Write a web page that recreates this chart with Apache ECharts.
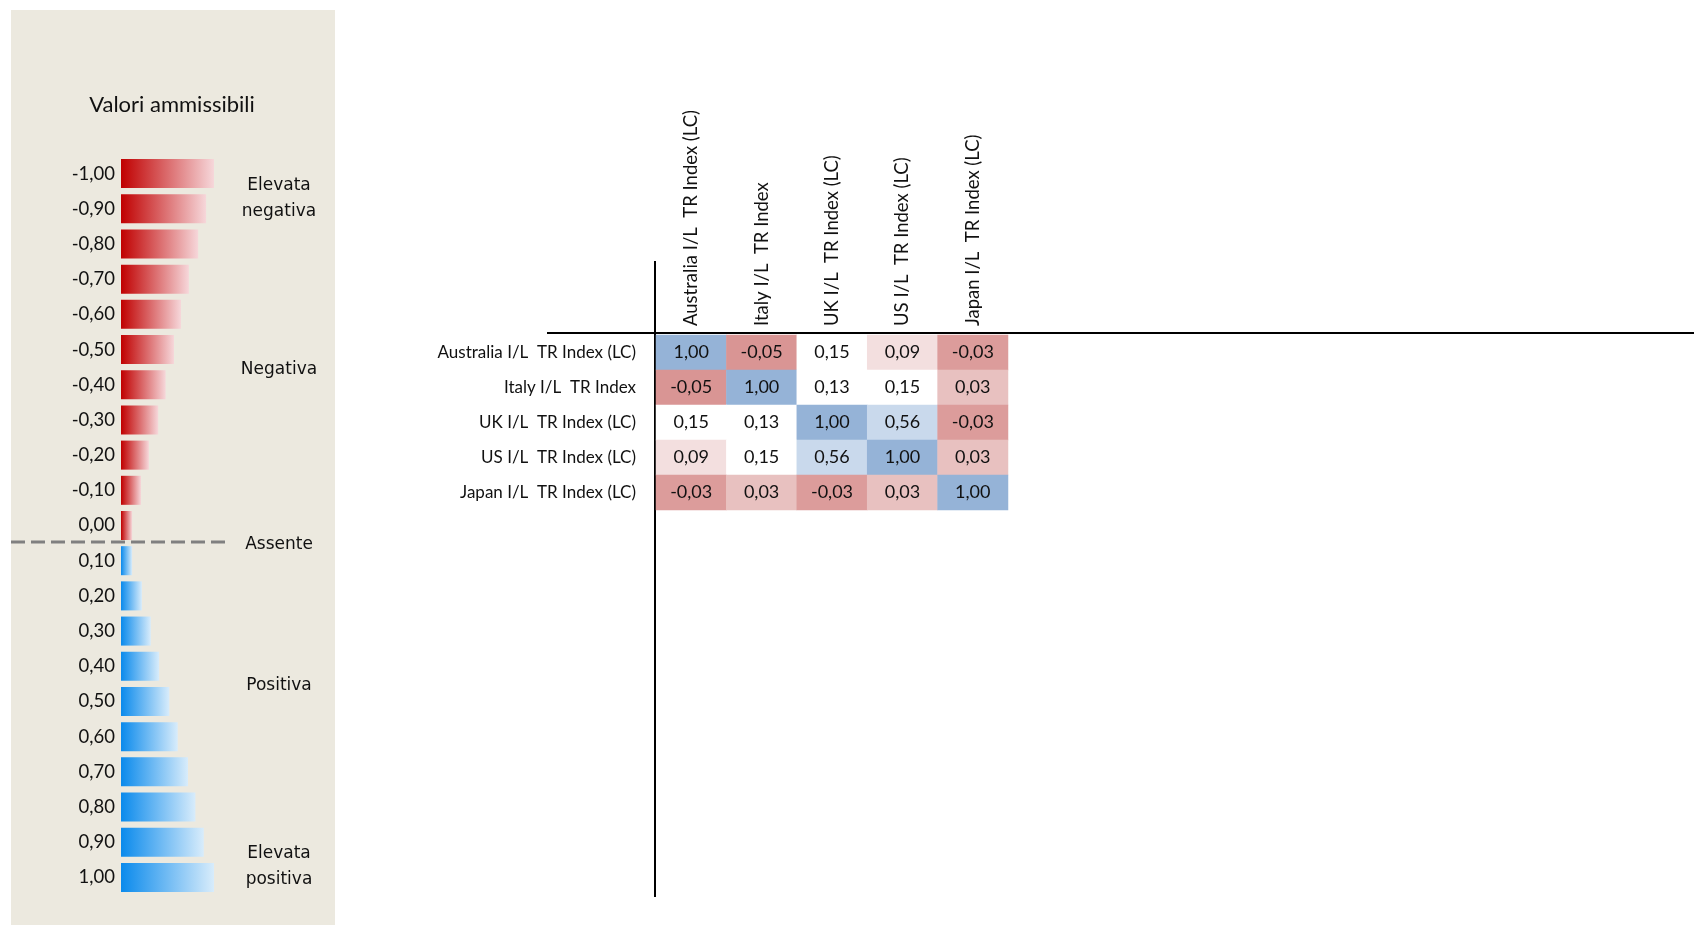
<!DOCTYPE html>
<html>
<head>
<meta charset="utf-8">
<title>Matrice di correlazione</title>
<script src="https://cdn.jsdelivr.net/npm/echarts@6/dist/echarts.min.js"></script>
<style>
  html, body { margin: 0; padding: 0; background: #fff; }
  #chart { width: 1694px; height: 925px; }
</style>
</head>
<body>
<div id="chart"></div>
<script>
// indici della matrice
const indices = [
  "Australia I/L  TR Index (LC)",
  "Italy I/L  TR Index",
  "UK I/L  TR Index (LC)",
  "US I/L  TR Index (LC)",
  "Japan I/L  TR Index (LC)"
];
// correlazioni, una riga per indice
const rowAustralia = [1.00, -0.05, 0.15, 0.09, -0.03];
const rowItaly = [-0.05, 1.00, 0.13, 0.15, 0.03];
const rowUK = [0.15, 0.13, 1.00, 0.56, -0.03];
const rowUS = [0.09, 0.15, 0.56, 1.00, 0.03];
const rowJapan = [-0.03, 0.03, -0.03, 0.03, 1.00];
const matrixRows = [rowAustralia, rowItaly, rowUK, rowUS, rowJapan];

// legenda "Valori ammissibili"
const legendValues = [-1.0, -0.9, -0.8, -0.7, -0.6, -0.5, -0.4, -0.3, -0.2, -0.1, 0.0,
  0.1, 0.2, 0.3, 0.4, 0.5, 0.6, 0.7, 0.8, 0.9, 1.0];
const legendBarLength = [1.00, 0.915, 0.83, 0.73, 0.645, 0.57, 0.48, 0.40, 0.30, 0.215, 0.12,
  0.12, 0.225, 0.32, 0.41, 0.52, 0.61, 0.72, 0.80, 0.89, 1.00];
const legendGroups = ["Elevata\nnegativa", "Negativa", "Assente", "Positiva", "Elevata\npositiva"];

const fmt = v => v.toFixed(2).replace(".", ",");

const heatData = [];
matrixRows.forEach((row, r) => {
  row.forEach((v, c) => heatData.push([c, r, v]));
});

const redGrad = new echarts.graphic.LinearGradient(0, 0, 1, 0, [
  { offset: 0, color: "#C00000" },
  { offset: 1, color: "#F6D7DA" }
]);
const blueGrad = new echarts.graphic.LinearGradient(0, 0, 1, 0, [
  { offset: 0, color: "#0A8AEC" },
  { offset: 1, color: "#D8ECFB" }
]);

const groupY = [199, 370, 545, 686, 867];

const myChart = echarts.init(document.getElementById("chart"));
const option = {
  backgroundColor: "#ffffff",
  animation: false,
  textStyle: { fontFamily: "Lato" },
  graphic: [
    { type: "rect", z: -10, shape: { x: 11, y: 10, width: 324, height: 915 }, style: { fill: "#ECE9DF" } },
    { type: "text", x: 172, y: 105, style: { text: "Valori ammissibili", font: "22px Lato", fill: "#111", align: "center", verticalAlign: "middle" } },
    { type: "line", z: 10, shape: { x1: 11, y1: 542, x2: 229, y2: 542 }, style: { stroke: "#808080", lineWidth: 3, lineDash: [14, 6] } },
    ...legendGroups.map((t, i) => ({
      type: "text", x: 279, y: groupY[i],
      style: { text: t, font: "17px 'DejaVu Sans'", fill: "#111", align: "center", verticalAlign: "middle", lineHeight: 26 }
    })),
    { type: "line", shape: { x1: 547, y1: 333, x2: 1694, y2: 333 }, style: { stroke: "#000", lineWidth: 2 } },
    { type: "line", shape: { x1: 655, y1: 261, x2: 655, y2: 897 }, style: { stroke: "#000", lineWidth: 2 } }
  ],
  grid: [
    { left: 121, top: 156, width: 93, height: 739 },
    { left: 656, top: 335, width: 352, height: 175 }
  ],
  xAxis: [
    { gridIndex: 0, type: "value", min: 0, max: 1, show: false },
    {
      gridIndex: 1, type: "category", position: "top", data: indices,
      axisLine: { show: false }, axisTick: { show: false }, splitLine: { show: false },
      axisLabel: { rotate: -90, margin: 9, fontSize: 18.5, color: "#111", interval: 0 }
    }
  ],
  yAxis: [
    {
      gridIndex: 0, type: "category", inverse: true, data: legendValues.map(fmt),
      axisLine: { show: false }, axisTick: { show: false },
      axisLabel: { margin: 6, fontSize: 18.5, color: "#111", interval: 0, padding: [6, 0, 0, 0] }
    },
    {
      gridIndex: 1, type: "category", inverse: true, data: indices,
      axisLine: { show: false }, axisTick: { show: false }, splitLine: { show: false },
      axisLabel: { margin: 20, fontSize: 17, color: "#111", interval: 0 }
    }
  ],
  visualMap: {
    type: "piecewise", show: false, seriesIndex: 1, dimension: 2,
    pieces: [
      { lt: -0.04, color: "#D99594" },
      { gte: -0.04, lt: 0, color: "#DC9C9B" },
      { gte: 0, lt: 0.06, color: "#E8C1C0" },
      { gte: 0.06, lt: 0.11, color: "#F3DFDF" },
      { gte: 0.11, lt: 0.3, color: "#FFFFFF" },
      { gte: 0.3, lt: 0.8, color: "#C9D9EC" },
      { gte: 0.8, color: "#95B3D7" }
    ]
  },
  series: [
    {
      type: "bar", xAxisIndex: 0, yAxisIndex: 0, barCategoryGap: "17.5%",
      data: legendBarLength.map((len, i) => ({
        value: len,
        itemStyle: { color: legendValues[i] <= 0 ? redGrad : blueGrad }
      }))
    },
    {
      type: "heatmap", xAxisIndex: 1, yAxisIndex: 1, data: heatData,
      label: { show: true, fontSize: 18, color: "#111", formatter: p => fmt(p.value[2]) },
      itemStyle: { borderWidth: 0 }
    }
  ]
};
myChart.setOption(option);
window.onresize = () => myChart.resize();
</script>
</body>
</html>
